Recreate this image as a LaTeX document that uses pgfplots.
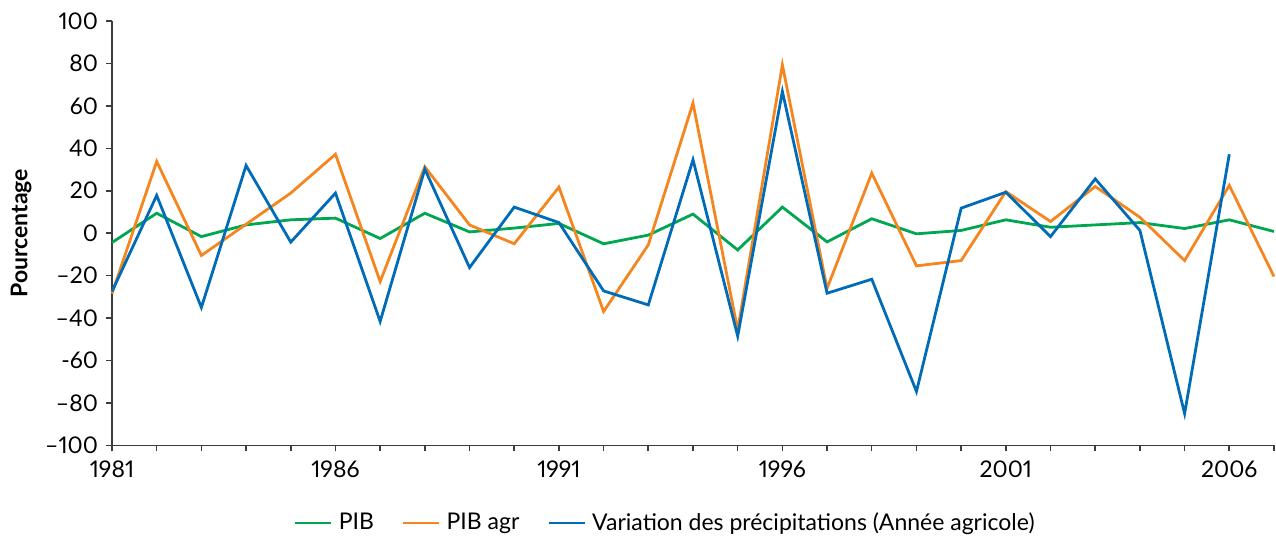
\documentclass[border=0pt]{standalone}
\usepackage{fontspec}
\setmainfont{Lato}[Numbers=Proportional]
\usepackage{pgfplots}
\pgfplotsset{compat=1.18}
\definecolor{cgreen}{RGB}{0,166,80}
\definecolor{corange}{RGB}{245,134,31}
\definecolor{cblue}{RGB}{0,107,182}
\definecolor{caxis}{RGB}{60,60,60}
\begin{document}
\begin{tikzpicture}
\begin{axis}[
  scale only axis, width=581pt, height=212.2pt,
  xmin=1981, xmax=2007, ymin=-100, ymax=100,
  axis lines*=left,
  axis line style={caxis, line width=0.8pt},
  tick style={caxis, line width=0.8pt},
  tick align=outside,
  major tick length=3pt, minor tick length=3pt,
  xtick={1981,1986,1991,1996,2001,2006},
  minor xtick={1981,...,2007},
  xticklabels={1981,1986,1991,1996,2001,2006},
  ytick={-100,-80,...,100},
  yticklabels={–100,–80,-60,–40,–20,0,20,40,60,80,100},
  ticklabel style={font=\fontsize{11.5}{13}\selectfont},
  xticklabel style={yshift=-1pt},
  yticklabel style={xshift=-0.5pt},
  ylabel={\textbf{Pourcentage}},
  ylabel style={font=\fontsize{11.5}{13}\selectfont, yshift=0pt},
  legend columns=3,
  legend style={draw=none, at={(rel axis cs:0.477,-0.183)}, anchor=center,
    font=\fontsize{11.5}{13}\selectfont, /tikz/every even column/.append style={column sep=12pt},
    /tikz/every odd column/.append style={column sep=1pt}},
  legend image code/.code={\draw[#1, line width=1.4pt] (0pt,0pt) -- (18pt,0pt);},
  clip=false,
]
\addplot[cgreen, line width=1.4pt] coordinates {
(1981,-4.4) (1982,9.4) (1983,-1.6) (1984,3.9) (1985,6.3) (1986,7.1) (1987,-2.5) (1988,9.4) (1989,0.6)
(1990,2.4) (1991,4.6) (1992,-5) (1993,-0.9) (1994,9) (1995,-7.9) (1996,12.3) (1997,-4.1) (1998,6.8)
(1999,-0.3) (2000,1.3) (2001,6.3) (2002,2.8) (2003,3.9) (2004,5) (2005,2.2) (2006,6.3) (2007,0.8)};
\addlegendentry{PIB}
\addplot[corange, line width=1.4pt] coordinates {
(1981,-28.5) (1982,33.8) (1983,-10.5) (1984,4.2) (1985,18.9) (1986,37.2) (1987,-22.8) (1988,31.3) (1989,3.9)
(1990,-5) (1991,21.7) (1992,-36.9) (1993,-5.5) (1994,61.3) (1995,-45.6) (1996,79.3) (1997,-26) (1998,28.3)
(1999,-15.4) (2000,-12.9) (2001,19.6) (2002,5.5) (2003,22) (2004,7.5) (2005,-12.9) (2006,22.5) (2007,-20.4)};
\addlegendentry{PIB agr}
\addplot[cblue, line width=1.4pt] coordinates {
(1981,-27.5) (1982,17.8) (1983,-35) (1984,31.9) (1985,-4.2) (1986,18.9) (1987,-41.6) (1988,30.2) (1989,-16.2)
(1990,12.3) (1991,5) (1992,-27.2) (1993,-33.8) (1994,34.6) (1995,-48.5) (1996,66.8) (1997,-28.3) (1998,-21.7)
(1999,-74.6) (2000,11.8) (2001,19.3) (2002,-1.6) (2003,25.6) (2004,1.3) (2005,-85) (2006,37.2)};
\addlegendentry{Variation des précipitations (Année agricole)}
\end{axis}
\pgfresetboundingbox
\path (-56pt,-46.85pt) rectangle (582pt,222.7pt);
\end{tikzpicture}
\end{document}
